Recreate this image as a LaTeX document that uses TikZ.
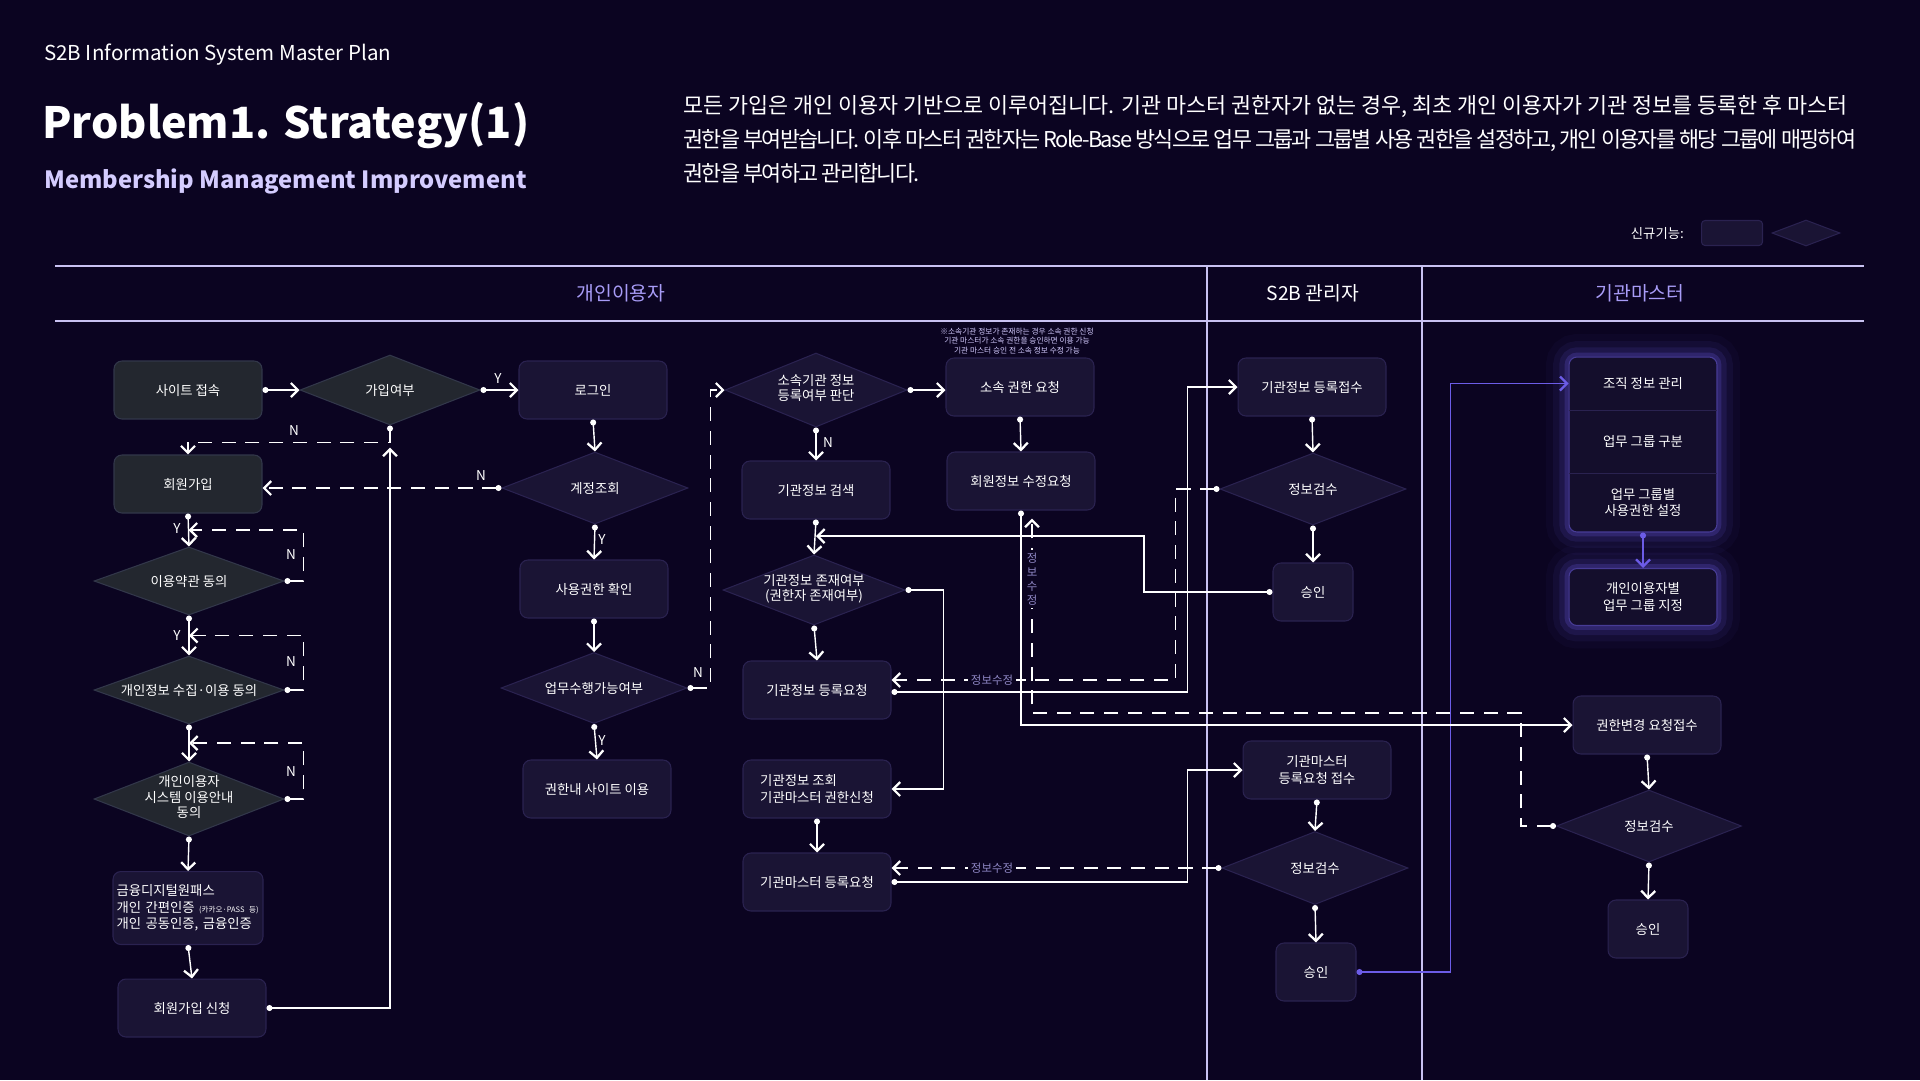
\documentclass[tikz,border=0pt]{standalone}
\usepackage{fontspec}
\setmainfont{Noto Sans CJK KR}
\usepackage{tikz}
\usetikzlibrary{positioning,shapes.geometric,arrows.meta,calc}

\definecolor{bgc}{HTML}{0B0421}
\definecolor{newfill}{HTML}{1A1434}
\definecolor{newline}{HTML}{2A2250}
\definecolor{oldfill}{HTML}{23272F}
\definecolor{oldline}{HTML}{32374A}
\definecolor{glowc}{HTML}{6C5CE7}
\definecolor{glowfill}{HTML}{140E2C}
\definecolor{lanec}{HTML}{C9C2F2}
\definecolor{headc}{HTML}{A89CF7}
\definecolor{subc}{HTML}{D4CCFF}
\definecolor{fixc}{HTML}{9088C6}

\newcommand{\nodefont}{\fontsize{7.6}{9.5}\selectfont}
\newcommand{\dtxt}[1]{\smash{\raisebox{-0.25em}{\renewcommand{\arraystretch}{0.9}\begin{tabular}{@{}c@{}}#1\end{tabular}}}}

\begin{document}
\begin{tikzpicture}[x=0.02cm, y=-0.02cm,
    box/.style={rectangle, rounded corners=4.5pt, draw=newline, fill=newfill, line width=0.6pt, minimum width=2.96cm, minimum height=1.16cm, inner sep=2pt, align=center, text=white, font=\nodefont},
    oldbox/.style={box, draw=oldline, fill=oldfill},
    okbox/.style={box, minimum width=1.6cm},
    dec/.style={diamond, aspect=2.6, inner sep=0pt, draw=newline, fill=newfill, line width=0.6pt, minimum width=3.72cm, minimum height=1.42cm, align=center, text=white, font=\nodefont},
    olddec/.style={dec, draw=oldline, fill=oldfill},
    glowbox/.style={box, draw=glowc!55!newfill, fill=glowfill,
        preaction={draw=glowc, line width=26pt, opacity=0.04},
        preaction={draw=glowc, line width=18pt, opacity=0.07},
        preaction={draw=glowc, line width=11pt, opacity=0.12},
        preaction={draw=glowc, line width=5pt, opacity=0.22}},
    part/.style={rectangle, minimum width=2.96cm, inner sep=0pt, align=center, text=white, font=\nodefont},
    flow/.style={draw=white, line width=0.8pt, {Circle[length=3.4pt]}-{Straight Barb[length=4pt,width=8pt,line width=1.3pt]}},
    back/.style={flow, dash pattern=on 8pt off 5.5pt},
    glowflow/.style={flow, draw=glowc, line width=1pt},
    yn/.style={text=white, font=\fontsize{7.7}{9}\selectfont, inner sep=1pt},
    fixlbl/.style={text=fixc, fill=bgc, font=\fontsize{6.5}{7.5}\selectfont, inner sep=1.5pt},
    lane/.style={draw=lanec, line width=0.7pt},
    head/.style={font=\fontsize{11}{13}\selectfont, text=headc},
]

\fill[bgc] (0,0) rectangle (1920,1080);
\useasboundingbox (0,0) rectangle (1920,1080);

% Header
\node[anchor=west, text=white, font=\fontsize{11.7}{13}\selectfont] (kicker) at (38,55) {S2B Information System Master Plan};
\node[anchor=west, text=white, font=\bfseries\fontsize{24.5}{29}\selectfont] (title) at (36,126) {Problem1. Strategy(1)};
\node[anchor=west, text=subc, font=\bfseries\fontsize{13.5}{16}\selectfont] (subtitle) at (38,181) {Membership Management Improvement};
\node[anchor=north west, align=left, inner sep=0pt, text=white, font=\fontsize{12.4}{19.3}\selectfont] (intro) at (683,95) {
    모든 가입은 개인 이용자 기반으로 이루어집니다. 기관 마스터 권한자가 없는 경우, 최초 개인 이용자가 기관 정보를 등록한 후 마스터\\
    {\addfontfeatures{LetterSpace=-7.7}권한을 부여받습니다. 이후 마스터 권한자는 Role-Base 방식으로 업무 그룹과 그룹별 사용 권한을 설정하고, 개인 이용자를 해당 그룹에 매핑하여}\\
    {\addfontfeatures{LetterSpace=-7.7}권한을 부여하고 관리합니다.}
};

% Legend
\node[anchor=east, text=white, font=\fontsize{7.6}{9}\selectfont] (legtxt) at (1690,233) {신규기능:};
\node[box, minimum width=1.22cm, minimum height=0.5cm, rounded corners=2pt] (legbox) at (1732,233) {};
\node[dec, minimum width=1.36cm, minimum height=0.52cm] (legdia) at (1806,233) {};

% Lanes
\draw[lane] (55,266) -- (1864,266);
\draw[lane] (55,321) -- (1864,321);
\draw[lane] (1207,266) -- (1207,1080);
\draw[lane] (1422,266) -- (1422,1080);
\node[head] (hpers) at (621,293) {개인이용자};
\node[head, text=white] (hadm) at (1313,293) {S2B 관리자};
\node[head] (hmast) at (1640,293) {기관마스터};

% Column 1 - personal sign up
\node[oldbox] (a1) at (188,390) {사이트 접속};
\node[olddec, minimum width=3.6cm, minimum height=1.4cm] (d1) at (390,390) {가입여부};
\node[oldbox] (a2) at (188,484) {회원가입};
\node[olddec, minimum width=3.8cm, minimum height=1.36cm] (d2) at (189,581) {이용약관 동의};
\node[olddec, minimum width=3.8cm, minimum height=1.36cm] (d3) at (189,690) {개인정보 수집·이용 동의};
\node[olddec, minimum width=3.8cm, minimum height=1.48cm] (d4) at (189,799) {\dtxt{개인이용자\\시스템 이용안내\\동의}};
\node[box, minimum height=1.46cm, text width=2.86cm, align=left] (a3) at (188,908) {
    금융디지털원패스\\
    개인 간편인증 {\fontsize{4.3}{5}\selectfont (카카오·PASS 등)}\\
    개인 공동인증, 금융인증
};
\node[box] (a4) at (192,1008) {회원가입 신청};

% Column 2 - login
\node[box] (b1) at (593,390) {로그인};
\node[dec, minimum height=1.44cm] (d5) at (595,488) {계정조회};
\node[box] (b2) at (594,589) {사용권한 확인};
\node[dec, minimum height=1.42cm] (d6) at (594,688) {업무수행가능여부};
\node[box] (b3) at (597,789) {권한내 사이트 이용};

% Column 3 - organisation
\node[dec, minimum width=3.64cm, minimum height=1.48cm] (d7) at (816,390) {\dtxt{소속기관 정보\\등록여부 판단}};
\node[box] (c1) at (1020,387) {소속 권한 요청};
\node[align=center, text=subc, inner sep=0pt, font=\fontsize{4.4}{5.2}\selectfont] (note) at (1017,341) {
    ※소속기관 정보가 존재하는 경우 소속 권한 신청\\
    기관 마스터가 소속 권한을 승인하면 이용 가능\\
    기관 마스터 승인 전 소속 정보 수정 가능
};
\node[box] (c2) at (1021,481) {회원정보 수정요청};
\node[box] (c3) at (816,490) {기관정보 검색};
\node[dec, minimum width=3.64cm, minimum height=1.4cm] (d8) at (814,590) {\dtxt{기관정보 존재여부\\(권한자 존재여부)}};
\node[box] (c4) at (817,690) {기관정보 등록요청};
\node[box, align=left] (c5) at (817,789) {기관정보 조회\\기관마스터 권한신청};
\node[box] (c6) at (817,882) {기관마스터 등록요청};

% Column 4 - S2B admin
\node[box] (s1) at (1312,387) {기관정보 등록접수};
\node[dec, minimum height=1.44cm] (s2) at (1313,489) {정보검수};
\node[okbox] (s3) at (1313,592) {승인};
\node[box] (s4) at (1317,770) {기관마스터\\등록요청 접수};
\node[dec, minimum height=1.46cm] (s5) at (1315,868) {정보검수};
\node[okbox] (s6) at (1316,972) {승인};

% Column 5 - organisation master
\node[glowbox, minimum height=3.5cm] (g1) at (1643,444.5) {};
\node[part, minimum height=1.06cm] (g1a) at (1643,383.5) {조직 정보 관리};
\node[part, minimum height=1.26cm] (g1b) at (1643,441.5) {업무 그룹 구분};
\node[part, minimum height=1.18cm] (g1c) at (1643,502.5) {업무 그룹별\\사용권한 설정};
\draw[newline, line width=0.6pt] (g1a.south west) -- (g1a.south east);
\draw[newline, line width=0.6pt] (g1b.south west) -- (g1b.south east);
\node[glowbox, minimum height=1.14cm] (g2) at (1643,597) {개인이용자별\\업무 그룹 지정};
\node[box] (r1) at (1647,725) {권한변경 요청접수};
\node[dec, minimum width=3.7cm, minimum height=1.44cm] (r2) at (1649,826) {정보검수};
\node[okbox] (r3) at (1648,929) {승인};

% Connectors - column 1
\draw[flow] (a1.east) -- (d1.west);
\draw[back] (d1.south) -- ++(0,17) -| (a2.north);
\draw[flow, shorten >=0.44cm] (a4.east) -| (d1.south);
\draw[flow] (a2.south) -- (d2.north);
\draw[flow] (d2.south) -- (d3.north);
\draw[flow] (d3.south) -- (d4.north);
\draw[flow] (d4.south) -- (a3.north);
\draw[flow] (a3.south) -- (a4.north);
\coordinate (ya) at ($(a2.south)!0.5!(d2.north)$);
\coordinate (yb) at ($(d2.south)!0.5!(d3.north)$);
\coordinate (yc) at ($(d3.south)!0.5!(d4.north)$);
\draw[back] (d2.east) -- ++(19,0) |- (ya);
\draw[back] (d3.east) -- ++(19,0) |- (yb);
\draw[back] (d4.east) -- ++(19,0) |- (yc);
\node[yn] (n1) at (294,431) {N};
\node[yn] (y2) at (177,529) {Y};
\node[yn] (n2) at (291,555) {N};
\node[yn] (y3) at (177,636) {Y};
\node[yn] (n3) at (291,662) {N};
\node[yn] (n4) at (291,772) {N};

% Connectors - column 2
\draw[flow] (d1.east) -- (b1.west);
\draw[flow] (b1.south) -- (d5.north);
\draw[back] (d5.west) -- (d5.west -| a2.east);
\draw[flow] (d5.south) -- (b2.north);
\draw[flow] (b2.south) -- (d6.north);
\draw[flow] (d6.south) -- (b3.north);
\draw[back] (d6.east) -- ++(23,0) |- (d7.west);
\node[yn] (y1) at (498,379) {Y};
\node[yn] (n5) at (481,476) {N};
\node[yn] (y4) at (602,540) {Y};
\node[yn] (y5) at (602,741) {Y};
\node[yn] (n6) at (698,673) {N};

% Connectors - column 3
\draw[flow] (d7.east) -- (d7.east -| c1.west);
\draw[flow] (c1.south) -- (c2.north);
\draw[flow] (d7.south) -- (c3.north);
\draw[flow] (c3.south) -- (d8.north);
\draw[flow] (d8.south) -- (c4.north);
\draw[flow] (d8.east) -- ++(38,0) |- (c5.east);
\draw[flow] (c5.south) -- (c6.north);
\node[yn] (n7) at (828,443) {N};

% Connectors - S2B admin
\draw[flow] ([yshift=-0.04cm]c4.east) -- ++(296,0) |- (s1.west);
\draw[flow] (s1.south) -- (s2.north);
\draw[back] (s2.west) -- ++(-44,0) |- ([yshift=0.2cm]c4.east);
\draw[flow] (s2.south) -- (s3.north);
\coordinate (jc) at (1144,536);
\draw[flow] (s3.west) -| (jc) -- (jc -| c3.south);
\draw[flow] (c6.east) -- ++(296,0) |- (s4.west);
\draw[flow] (s4.south) -- (s5.north);
\draw[back] (s5.west) -- (s5.west -| c6.east);
\draw[flow] (s5.south) -- (s6.north);
\node[fixlbl] (f1) at (992,680) {정보수정};
\node[fixlbl] (f2) at (992,868) {정보수정};

% Connectors - organisation master
\draw[glowflow] (s6.east) -- ++(94,0) |- (g1a.west);
\draw[glowflow] (g1.south) -- (g2.north);
\draw[flow] (c2.south) |- (r1.west);
\draw[flow] (r1.south) -- (r2.north);
\draw[flow] (r2.south) -- (r3.north);
\coordinate (rq) at (1032,713);
\draw[back, shorten >=0.16cm] (r2.west) -- ++(-35,0) |- (rq) -- (rq |- c2.south);
\node[fixlbl, align=center, font=\fontsize{6.5}{8}\selectfont] (f3) at (1032,579) {정\\보\\수\\정};

\end{tikzpicture}
\end{document}
